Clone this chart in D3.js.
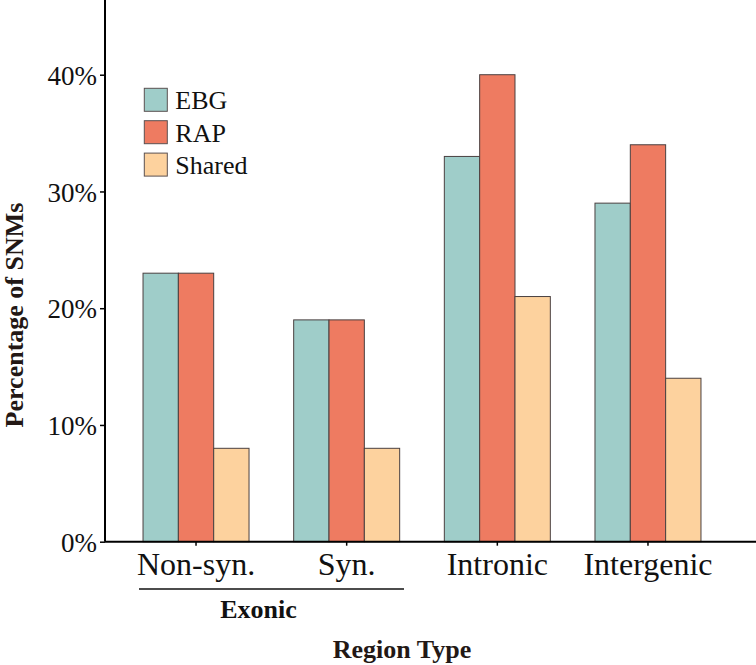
<!DOCTYPE html>
<html>
<head>
<meta charset="utf-8">
<script src="https://cdn.jsdelivr.net/npm/d3@7"></script>
<style>
  body { margin: 0; background: #fff; }
  svg { display: block; }
  svg text { font-family: 'Liberation Serif', 'Times New Roman', serif; }
</style>
</head>
<body>
<svg id="chart"></svg>
<script>
const categories = ["Non-syn.", "Syn.", "Intronic", "Intergenic"];
const seriesNames = ["EBG", "RAP", "Shared"];
const ebgValues = [23, 19, 33, 29];
const rapValues = [23, 19, 40, 34];
const sharedValues = [8, 8, 21, 14];
const yTicks = [0, 10, 20, 30, 40];
const colors = ["#9fcdc9", "#ee7b61", "#fdd29e"];

const W = 756, H = 665;
const FONT = "'Liberation Serif', 'Times New Roman', serif";
const svg = d3.select("#chart").attr("width", W).attr("height", H);

const allValues = [ebgValues, rapValues, sharedValues];
const data = categories.map((c, i) => ({
  cat: c,
  vals: seriesNames.map((s, j) => ({ key: s, value: allValues[j][i] }))
}));

const axisX = 105, baseY = 541.7;

const yScale = d3.scaleLinear().domain([0, 46.4]).range([baseY, 0]);
const x0 = d3.scaleBand().domain(categories).range([120.7, 723.3]).padding(0);
const groupW = 106;
const x1 = d3.scaleBand().domain(seriesNames).range([0, groupW]);

// bars
const groups = svg.selectAll("g.grp").data(data).join("g")
  .attr("class", "grp")
  .attr("transform", d => `translate(${x0(d.cat) + (x0.bandwidth() - groupW) / 2},0)`);

groups.selectAll("rect").data(d => d.vals).join("rect")
  .attr("x", d => x1(d.key))
  .attr("y", d => yScale(d.value))
  .attr("width", x1.bandwidth())
  .attr("height", d => baseY - yScale(d.value))
  .attr("fill", (d, i) => colors[i])
  .attr("stroke", "#4a4040")
  .attr("stroke-width", 1);

// y axis
const yAxis = svg.append("g")
  .attr("transform", `translate(${axisX},0)`)
  .call(d3.axisLeft(yScale).tickValues(yTicks).tickFormat(d => d + "%").tickSize(5).tickPadding(3));
yAxis.attr("font-family", null);
yAxis.select(".domain").attr("d", `M0,0V${baseY}`).attr("stroke", "#000").attr("stroke-width", 2);
yAxis.selectAll(".tick line").attr("stroke", "#000").attr("stroke-width", 1.5);
yAxis.selectAll(".tick text")
  .style("font-family", FONT)
  .attr("font-size", 27).attr("fill", "#111").attr("dy", "0.36em");

// x axis
const xAxis = svg.append("g")
  .attr("transform", `translate(0,${baseY})`)
  .call(d3.axisBottom(x0).tickSize(4).tickPadding(8));
xAxis.attr("font-family", null);
xAxis.select(".domain").attr("d", `M${axisX},0H${W}`).attr("stroke", "#000").attr("stroke-width", 2);
xAxis.selectAll(".tick line").attr("stroke", "#000").attr("stroke-width", 1.5);
xAxis.selectAll(".tick text")
  .style("font-family", FONT)
  .attr("font-size", 32).attr("fill", "#111")
  .attr("y", 33).attr("dy", 0);

// exonic bracket
svg.append("line")
  .attr("x1", 139).attr("x2", 404).attr("y1", 589).attr("y2", 589)
  .attr("stroke", "#111").attr("stroke-width", 1.5);
svg.append("text")
  .attr("x", 258.5).attr("y", 618)
  .attr("text-anchor", "middle")
  .style("font-family", FONT)
  .attr("font-size", 26).attr("font-weight", "bold").attr("fill", "#111")
  .text("Exonic");

// axis titles
svg.append("text")
  .attr("x", 402).attr("y", 658)
  .attr("text-anchor", "middle")
  .style("font-family", FONT)
  .attr("font-size", 26).attr("font-weight", "bold").attr("fill", "#231815")
  .text("Region Type");

svg.append("text")
  .attr("transform", "translate(23,315) rotate(-90)")
  .attr("text-anchor", "middle")
  .style("font-family", FONT)
  .attr("font-size", 26).attr("font-weight", "bold").attr("fill", "#231815")
  .text("Percentage of SNMs");

// legend
const legend = svg.append("g").attr("transform", "translate(144.3,88.3)");
const li = legend.selectAll("g").data(seriesNames).join("g")
  .attr("transform", (d, i) => `translate(0,${i * 32.4})`);
li.append("rect")
  .attr("width", 23).attr("height", 23)
  .attr("fill", (d, i) => colors[i])
  .attr("stroke", "#5a5050").attr("stroke-width", 1);
li.append("text")
  .attr("x", 31).attr("y", 21)
  .style("font-family", FONT)
  .attr("font-size", 26).attr("fill", "#111")
  .text(d => d);
</script>
</body>
</html>
